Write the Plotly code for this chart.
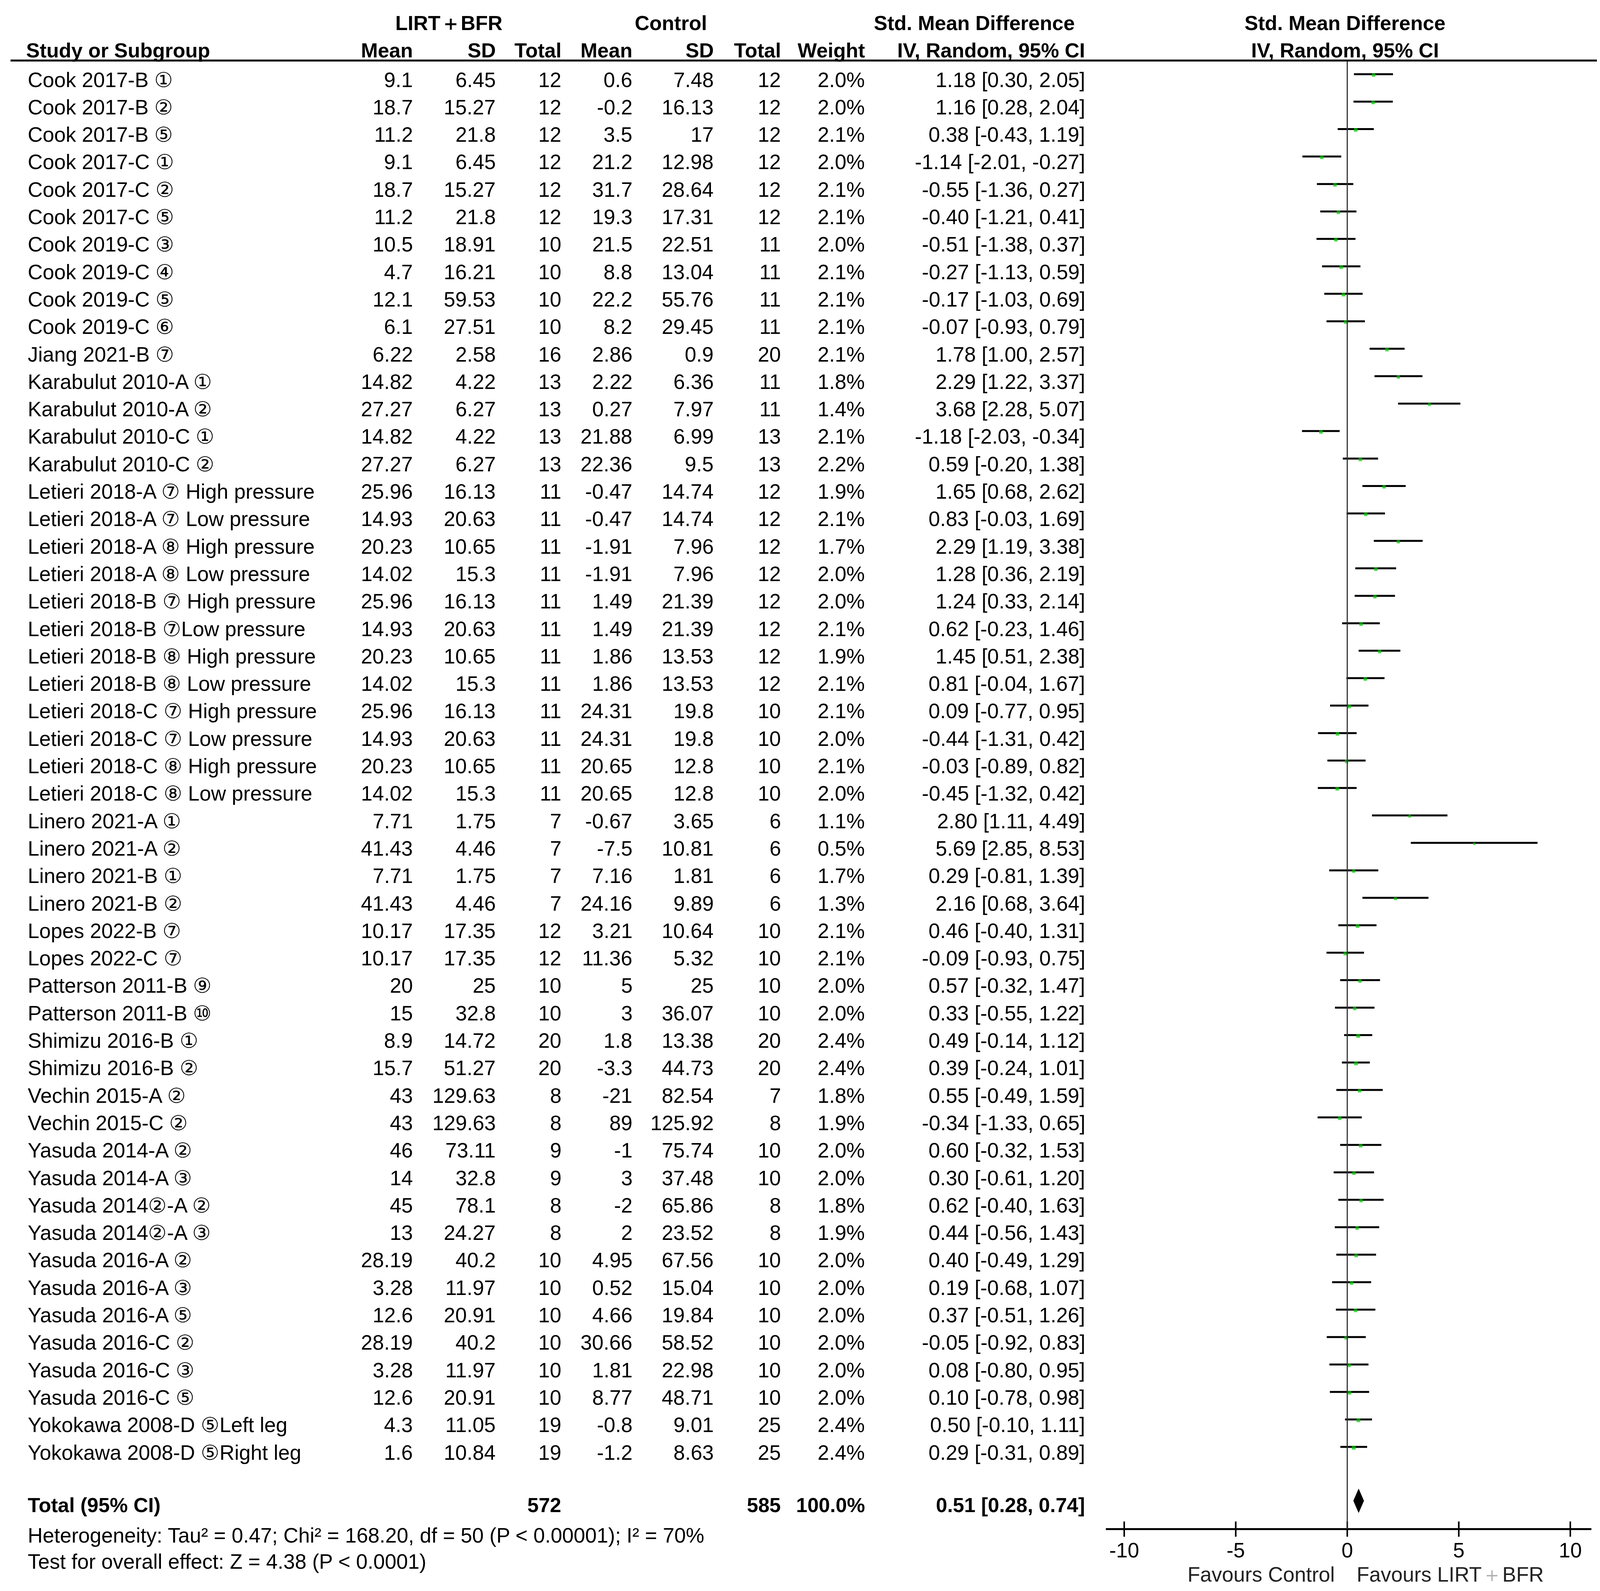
import plotly.graph_objects as go

W, H = 4130, 4074

# ---------------- data ----------------
studies = [
    "Cook 2017-B ①", "Cook 2017-B ②", "Cook 2017-B ⑤", "Cook 2017-C ①", "Cook 2017-C ②", "Cook 2017-C ⑤",
    "Cook 2019-C ③", "Cook 2019-C ④", "Cook 2019-C ⑤", "Cook 2019-C ⑥", "Jiang 2021-B ⑦",
    "Karabulut 2010-A ①", "Karabulut 2010-A ②", "Karabulut 2010-C ①", "Karabulut 2010-C ②",
    "Letieri 2018-A ⑦ High pressure", "Letieri 2018-A ⑦ Low pressure",
    "Letieri 2018-A ⑧ High pressure", "Letieri 2018-A ⑧ Low pressure",
    "Letieri 2018-B ⑦ High pressure", "Letieri 2018-B ⑦Low pressure",
    "Letieri 2018-B ⑧ High pressure", "Letieri 2018-B ⑧ Low pressure",
    "Letieri 2018-C ⑦ High pressure", "Letieri 2018-C ⑦ Low pressure",
    "Letieri 2018-C ⑧ High pressure", "Letieri 2018-C ⑧ Low pressure",
    "Linero 2021-A ①", "Linero 2021-A ②", "Linero 2021-B ①", "Linero 2021-B ②",
    "Lopes 2022-B ⑦", "Lopes 2022-C ⑦", "Patterson 2011-B ⑨", "Patterson 2011-B ⑩",
    "Shimizu 2016-B ①", "Shimizu 2016-B ②", "Vechin 2015-A ②", "Vechin 2015-C ②",
    "Yasuda 2014-A ②", "Yasuda 2014-A ③", "Yasuda 2014②-A ②", "Yasuda 2014②-A ③",
    "Yasuda 2016-A ②", "Yasuda 2016-A ③", "Yasuda 2016-A ⑤",
    "Yasuda 2016-C ②", "Yasuda 2016-C ③", "Yasuda 2016-C ⑤",
    "Yokokawa 2008-D ⑤Left leg", "Yokokawa 2008-D ⑤Right leg",
]
lirt_mean = [9.1, 18.7, 11.2, 9.1, 18.7, 11.2, 10.5, 4.7, 12.1, 6.1, 6.22,
             14.82, 27.27, 14.82, 27.27,
             25.96, 14.93, 20.23, 14.02, 25.96, 14.93, 20.23, 14.02, 25.96, 14.93, 20.23, 14.02,
             7.71, 41.43, 7.71, 41.43, 10.17, 10.17, 20, 15, 8.9, 15.7, 43, 43,
             46, 14, 45, 13, 28.19, 3.28, 12.6, 28.19, 3.28, 12.6, 4.3, 1.6]
lirt_sd = [6.45, 15.27, 21.8, 6.45, 15.27, 21.8, 18.91, 16.21, 59.53, 27.51, 2.58,
           4.22, 6.27, 4.22, 6.27,
           16.13, 20.63, 10.65, 15.3, 16.13, 20.63, 10.65, 15.3, 16.13, 20.63, 10.65, 15.3,
           1.75, 4.46, 1.75, 4.46, 17.35, 17.35, 25, 32.8, 14.72, 51.27, 129.63, 129.63,
           73.11, 32.8, 78.1, 24.27, 40.2, 11.97, 20.91, 40.2, 11.97, 20.91, 11.05, 10.84]
lirt_n = [12, 12, 12, 12, 12, 12, 10, 10, 10, 10, 16,
          13, 13, 13, 13,
          11, 11, 11, 11, 11, 11, 11, 11, 11, 11, 11, 11,
          7, 7, 7, 7, 12, 12, 10, 10, 20, 20, 8, 8,
          9, 9, 8, 8, 10, 10, 10, 10, 10, 10, 19, 19]
ctrl_mean = [0.6, -0.2, 3.5, 21.2, 31.7, 19.3, 21.5, 8.8, 22.2, 8.2, 2.86,
             2.22, 0.27, 21.88, 22.36,
             -0.47, -0.47, -1.91, -1.91, 1.49, 1.49, 1.86, 1.86, 24.31, 24.31, 20.65, 20.65,
             -0.67, -7.5, 7.16, 24.16, 3.21, 11.36, 5, 3, 1.8, -3.3, -21, 89,
             -1, 3, -2, 2, 4.95, 0.52, 4.66, 30.66, 1.81, 8.77, -0.8, -1.2]
ctrl_sd = [7.48, 16.13, 17, 12.98, 28.64, 17.31, 22.51, 13.04, 55.76, 29.45, 0.9,
           6.36, 7.97, 6.99, 9.5,
           14.74, 14.74, 7.96, 7.96, 21.39, 21.39, 13.53, 13.53, 19.8, 19.8, 12.8, 12.8,
           3.65, 10.81, 1.81, 9.89, 10.64, 5.32, 25, 36.07, 13.38, 44.73, 82.54, 125.92,
           75.74, 37.48, 65.86, 23.52, 67.56, 15.04, 19.84, 58.52, 22.98, 48.71, 9.01, 8.63]
ctrl_n = [12, 12, 12, 12, 12, 12, 11, 11, 11, 11, 20,
          11, 11, 13, 13,
          12, 12, 12, 12, 12, 12, 12, 12, 10, 10, 10, 10,
          6, 6, 6, 6, 10, 10, 10, 10, 20, 20, 7, 8,
          10, 10, 8, 8, 10, 10, 10, 10, 10, 10, 25, 25]
weight = [2.0, 2.0, 2.1, 2.0, 2.1, 2.1, 2.0, 2.1, 2.1, 2.1, 2.1,
          1.8, 1.4, 2.1, 2.2,
          1.9, 2.1, 1.7, 2.0, 2.0, 2.1, 1.9, 2.1, 2.1, 2.0, 2.1, 2.0,
          1.1, 0.5, 1.7, 1.3, 2.1, 2.1, 2.0, 2.0, 2.4, 2.4, 1.8, 1.9,
          2.0, 2.0, 1.8, 1.9, 2.0, 2.0, 2.0, 2.0, 2.0, 2.0, 2.4, 2.4]
smd = [1.18, 1.16, 0.38, -1.14, -0.55, -0.40, -0.51, -0.27, -0.17, -0.07, 1.78,
       2.29, 3.68, -1.18, 0.59,
       1.65, 0.83, 2.29, 1.28, 1.24, 0.62, 1.45, 0.81, 0.09, -0.44, -0.03, -0.45,
       2.80, 5.69, 0.29, 2.16, 0.46, -0.09, 0.57, 0.33, 0.49, 0.39, 0.55, -0.34,
       0.60, 0.30, 0.62, 0.44, 0.40, 0.19, 0.37, -0.05, 0.08, 0.10, 0.50, 0.29]
ci_lo = [0.30, 0.28, -0.43, -2.01, -1.36, -1.21, -1.38, -1.13, -1.03, -0.93, 1.00,
         1.22, 2.28, -2.03, -0.20,
         0.68, -0.03, 1.19, 0.36, 0.33, -0.23, 0.51, -0.04, -0.77, -1.31, -0.89, -1.32,
         1.11, 2.85, -0.81, 0.68, -0.40, -0.93, -0.32, -0.55, -0.14, -0.24, -0.49, -1.33,
         -0.32, -0.61, -0.40, -0.56, -0.49, -0.68, -0.51, -0.92, -0.80, -0.78, -0.10, -0.31]
ci_hi = [2.05, 2.04, 1.19, -0.27, 0.27, 0.41, 0.37, 0.59, 0.69, 0.79, 2.57,
         3.37, 5.07, -0.34, 1.38,
         2.62, 1.69, 3.38, 2.19, 2.14, 1.46, 2.38, 1.67, 0.95, 0.42, 0.82, 0.42,
         4.49, 8.53, 1.39, 3.64, 1.31, 0.75, 1.47, 1.22, 1.12, 1.01, 1.59, 0.65,
         1.53, 1.20, 1.63, 1.43, 1.29, 1.07, 1.26, 0.83, 0.95, 0.98, 1.11, 0.89]

total_smd, total_lo, total_hi = 0.51, 0.28, 0.74
total_weight = "100.0%"
heterogeneity = "Heterogeneity: Tau² = 0.47; Chi² = 168.20, df = 50 (P < 0.00001); I² = 70%"
overall = "Test for overall effect: Z = 4.38 (P < 0.0001)"
tick_vals = [-10, -5, 0, 5, 10]
tick_text = ["-10", "-5", "0", "5", "10"]
group1, group2 = "LIRT＋BFR", "Control"

# ---------------- geometry ----------------
FONT = "Liberation Sans, Arial, sans-serif"
FS = 53
FSB = 52
ROW0_PX, ROW_PX = 203.0, 70.3
YS = -7.0   # global vertical nudge of the content
ZERO_PX, UNIT_PX = 3441.0, 57.1
AX_L_PX, AX_R_PX = 2823.0, 4066.0


def row_of(px):
    return (px - ROW0_PX) / ROW_PX


def pos(px):
    return row_of(px + YS)


def xval(px):
    return (px - ZERO_PX) / UNIT_PX


LABEL_X = 61
COL = dict(m1=1051, sd1=1263, n1=1431, m2=1613, sd2=1821, n2=1993, w=2208, ci=2772)
LINE_OFF = -0.2
R_SHIFT = YS / ROW_PX

fig = go.Figure()
rows = list(range(len(studies)))

# CI lines
xs, ys = [], []
for r, lo, hi in zip(rows, ci_lo, ci_hi):
    xs += [lo, hi, None]
    ys += [r + LINE_OFF + R_SHIFT, r + LINE_OFF + R_SHIFT, None]
fig.add_trace(go.Scatter(x=xs, y=ys, mode="lines", line=dict(color="black", width=5),
                         hoverinfo="skip", showlegend=False))
# point estimates
fig.add_trace(go.Scatter(x=smd, y=[r + LINE_OFF + R_SHIFT + 0.03 for r in rows], mode="markers",
                         marker=dict(symbol="square", color="#00c800",
                                     size=[5 + 2 * w for w in weight], line=dict(width=0)),
                         hoverinfo="skip", showlegend=False))
# diamond
dr = pos(3842)
fig.add_trace(go.Scatter(x=[total_lo, total_smd, total_hi, total_smd, total_lo],
                         y=[dr, dr - 0.43, dr, dr + 0.43, dr], mode="lines", fill="toself",
                         fillcolor="black", line=dict(color="black", width=1),
                         hoverinfo="skip", showlegend=False))
# crossing ticks
tx, ty = [], []
for t in tick_vals:
    tx += [t, t, None]
    ty += [pos(3895), pos(3934), None]
fig.add_trace(go.Scatter(x=tx, y=ty, mode="lines", line=dict(color="black", width=4),
                         hoverinfo="skip", showlegend=False))

# zero line
fig.add_shape(type="line", xref="x", yref="y", x0=0, x1=0, y0=pos(154), y1=pos(3914),
              line=dict(color="#333333", width=3))
# header rule
fig.add_shape(type="line", xref="paper", yref="y", x0=19 / W, x1=1, y0=pos(154), y1=pos(154),
              line=dict(color="black", width=5))


def txt(s, px, r, anchor="right", bold=False, size=None, color="black"):
    if size is None:
        size = FSB if bold else FS
    fig.add_annotation(x=px / W, xref="paper", y=r, yref="y", text=s, showarrow=False,
                       xanchor=anchor, yanchor="middle",
                       font=dict(family=FONT, size=size, color=color,
                                 weight="bold" if bold else "normal"))


def num(v):
    return str(v)


# headers
h1, h2 = pos(58), pos(128)
txt(group1, 1141, h1, "center", True)
txt(group2, 1709, h1, "center", True)
txt("Std. Mean Difference", 2486, h1, "center", True)
txt("Std. Mean Difference", 3435, h1, "center", True)
txt("Study or Subgroup", 57, h2, "left", True)
for key, lab in [("m1", "Mean"), ("sd1", "SD"), ("n1", "Total"), ("m2", "Mean"),
                 ("sd2", "SD"), ("n2", "Total"), ("w", "Weight"), ("ci", "IV, Random, 95% CI")]:
    txt(lab, COL[key], h2, "right", True)
txt("IV, Random, 95% CI", 3435, h2, "center", True)

# study rows
for r in rows:
    y = r + R_SHIFT
    txt(studies[r], LABEL_X, y, "left")
    txt(num(lirt_mean[r]), COL["m1"], y)
    txt(num(lirt_sd[r]), COL["sd1"], y)
    txt(num(lirt_n[r]), COL["n1"], y)
    txt(num(ctrl_mean[r]), COL["m2"], y)
    txt(num(ctrl_sd[r]), COL["sd2"], y)
    txt(num(ctrl_n[r]), COL["n2"], y)
    txt(f"{weight[r]:.1f}%", COL["w"], y)
    txt(f"{smd[r]:.2f} [{ci_lo[r]:.2f}, {ci_hi[r]:.2f}]", COL["ci"], y)

# total row
tr = pos(3853)
txt("Total (95% CI)", LABEL_X, tr, "left", True)
txt(str(sum(lirt_n)), COL["n1"], tr, "right", True)
txt(str(sum(ctrl_n)), COL["n2"], tr, "right", True)
txt(total_weight, COL["w"], tr, "right", True)
txt(f"{total_smd:.2f} [{total_lo:.2f}, {total_hi:.2f}]", COL["ci"], tr, "right", True)
txt(heterogeneity, LABEL_X, pos(3930), "left")
txt(overall, LABEL_X, pos(3997), "left")

# favours labels
txt("Favours Control", ZERO_PX - 30, pos(4030), "right", color="#222222")
txt("Favours LIRT<span style='color:#b0b0b0'>＋</span>BFR", ZERO_PX + 22, pos(4030), "left",
    color="#222222")

fig.update_layout(
    width=W, height=H, margin=dict(l=0, r=0, t=0, b=0),
    paper_bgcolor="white", plot_bgcolor="white", showlegend=False,
    xaxis=dict(domain=[AX_L_PX / W, AX_R_PX / W], range=[xval(AX_L_PX), xval(AX_R_PX)],
               anchor="free", position=1 - (3914 + YS) / H, showline=True, linecolor="black",
               linewidth=5, showgrid=False, zeroline=False, ticks="",
               tickvals=tick_vals, ticktext=tick_text, ticklabelstandoff=6,
               tickfont=dict(family=FONT, size=FS, color="black")),
    yaxis=dict(domain=[0, 1], range=[row_of(H), row_of(0)], visible=False),
)

fig.write_html("out.html")
